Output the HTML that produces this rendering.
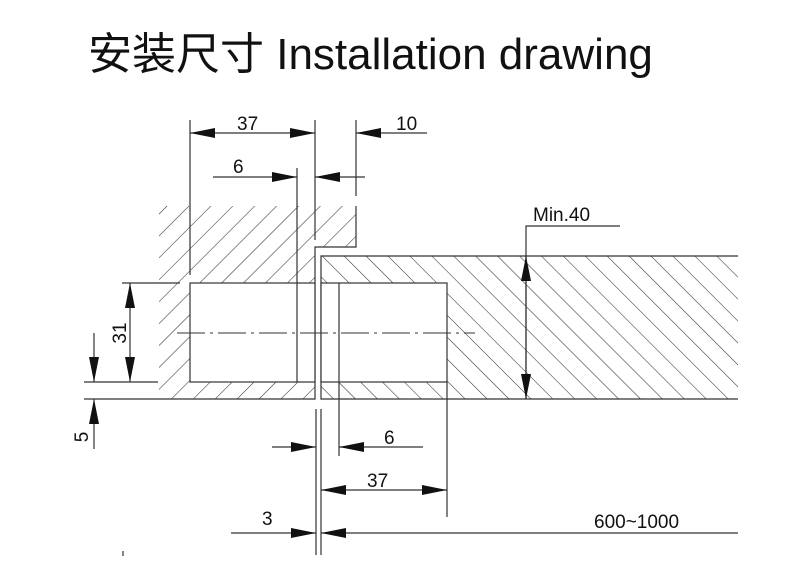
<!DOCTYPE html>
<html><head><meta charset="utf-8"><style>
body{margin:0;background:#fff;width:810px;height:585px;overflow:hidden}
svg{display:block}
text{font-family:"Liberation Sans","Noto Sans CJK SC",sans-serif;fill:#111}
</style></head><body>
<svg width="810" height="585" viewBox="0 0 810 585">
<defs>
<pattern id="hf" patternUnits="userSpaceOnUse" width="15.5" height="15.5" patternTransform="rotate(45)">
<line x1="0" y1="0" x2="0" y2="16" stroke="#333" stroke-width="1.1"/></pattern>
<pattern id="hb" patternUnits="userSpaceOnUse" width="15.5" height="15.5" patternTransform="rotate(-45)">
<line x1="0" y1="0" x2="0" y2="16" stroke="#333" stroke-width="1.1"/></pattern>
<marker id="a" viewBox="0 0 10 10" refX="10" refY="5" markerWidth="25" markerHeight="25" markerUnits="userSpaceOnUse" orient="auto-start-reverse">
<path d="M0,3 L10,5 L0,7z" fill="#111"/></marker>
</defs>
<text x="88" y="69" font-size="44">安装尺寸 Installation drawing</text>
<g stroke="#333" stroke-width="1.2" fill="none">
<path d="M159,206H356V247H315V399H159Z M190,283H315V382H190Z" fill="url(#hf)" fill-rule="evenodd" stroke="none"/>
<path d="M321,256H738V399H321Z M321,283H447V382H321Z" fill="url(#hb)" fill-rule="evenodd" stroke="none"/>
<path d="M356,206V247H315V399H148"/>
<rect x="190" y="283" width="125" height="99" fill="#fff"/>
<line x1="297" y1="168" x2="297" y2="382"/>
<path d="M738,256H321V399H738"/>
<rect x="321" y="283" width="126" height="99" fill="#fff"/>
<line x1="339" y1="283" x2="339" y2="456"/>
<line x1="447" y1="382" x2="447" y2="517"/>
<line x1="177" y1="333" x2="475" y2="333" stroke-dasharray="28,5,3,5" stroke-width="1"/>
<line x1="190" y1="120" x2="190" y2="275"/>
<line x1="315" y1="120" x2="315" y2="240"/>
<line x1="356" y1="120" x2="356" y2="196"/>
<line x1="190" y1="133" x2="315" y2="133" marker-start="url(#a)" marker-end="url(#a)"/>
<line x1="427" y1="133" x2="356" y2="133" marker-end="url(#a)"/>
<line x1="213" y1="177" x2="297" y2="177" marker-end="url(#a)"/>
<line x1="365" y1="177" x2="315" y2="177" marker-end="url(#a)"/>
<line x1="122" y1="283" x2="180" y2="283"/>
<line x1="84" y1="382" x2="158" y2="382"/>
<line x1="84" y1="399" x2="148" y2="399"/>
<line x1="130" y1="283" x2="130" y2="382" marker-start="url(#a)" marker-end="url(#a)"/>
<line x1="94" y1="333" x2="94" y2="382" marker-end="url(#a)"/>
<line x1="94" y1="449" x2="94" y2="399" marker-end="url(#a)"/>
<polyline points="620,226 526,226 526,399"/>
<line x1="526" y1="256" x2="526" y2="399" marker-start="url(#a)" marker-end="url(#a)"/>
<line x1="316" y1="409" x2="316" y2="555"/>
<line x1="321" y1="409" x2="321" y2="555"/>
<line x1="272" y1="447" x2="316" y2="447" marker-end="url(#a)"/>
<line x1="423" y1="447" x2="339" y2="447" marker-end="url(#a)"/>
<line x1="321" y1="490" x2="447" y2="490" marker-start="url(#a)" marker-end="url(#a)"/>
<line x1="231" y1="533" x2="316" y2="533" marker-end="url(#a)"/>
<line x1="738" y1="533" x2="321" y2="533" marker-end="url(#a)"/>
<line x1="123" y1="551" x2="123" y2="556"/>
</g>
<g font-size="19">
<text x="237" y="130">37</text>
<text x="396" y="130">10</text>
<text x="233" y="173">6</text>
<text x="533" y="221">Min.40</text>
<text x="384" y="444">6</text>
<text x="367" y="487">37</text>
<text x="262" y="525">3</text>
<text x="594" y="528">600~1000</text>
<text transform="translate(126,333) rotate(-90)" text-anchor="middle">31</text>
<text transform="translate(88,437) rotate(-90)" text-anchor="middle">5</text>
</g>
</svg>
</body></html>
